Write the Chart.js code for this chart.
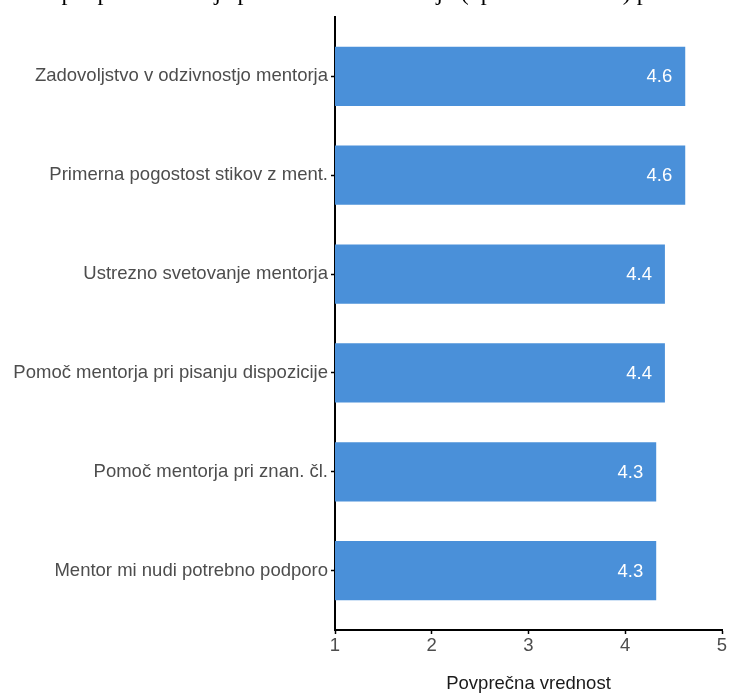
<!DOCTYPE html>
<html>
<head>
<meta charset="utf-8">
<script src="https://cdn.jsdelivr.net/npm/chart.js@4.4.1/dist/chart.umd.min.js"></script>
<style>
    html, body { margin: 0; padding: 0; background: #fff; overflow: hidden; }
    #wrap { position: relative; width: 729px; height: 695px; overflow: hidden; }
    #title {
        position: absolute; top: -20px; left: 50%; transform: translateX(-50%); z-index: 2;
        white-space: nowrap; font-family: "Liberation Serif", "Times New Roman", serif;
        font-size: 24px; line-height: 24px; color: #000;
    }
    #chart-box { position: absolute; left: 0; top: 0; width: 729px; height: 695px; z-index: 1; }
</style>
</head>
<body>
<div id="wrap">
    <div id="chart-box"><canvas id="barChart" width="729" height="695"></canvas></div>
    <div id="title">Slika 5: Povprečne ocene podpore mentorja pri doktorskem študiju (opisne statistike) po trditvah, urejeno padajoče</div>
</div>
<script>
// Data
const categories = [
    'Zadovoljstvo v odzivnostjo mentorja',
    'Primerna pogostost stikov z ment.',
    'Ustrezno svetovanje mentorja',
    'Pomoč mentorja pri pisanju dispozicije',
    'Pomoč mentorja pri znan. čl.',
    'Mentor mi nudi potrebno podporo'
];
const meanValues = [4.62, 4.62, 4.41, 4.41, 4.32, 4.32];
const xTicks = [1, 2, 3, 4, 5];

const barColor = '#4a90d9';
const axisColor = '#000000';
const tickText = '#4d4d4d';

Chart.defaults.font.family = '"Liberation Sans", Arial, sans-serif';

// white value labels at the end of each bar
const valueLabels = {
    id: 'valueLabels',
    afterDatasetsDraw(chart) {
        const ctx = chart.ctx;
        const meta = chart.getDatasetMeta(0);
        ctx.save();
        ctx.fillStyle = '#ffffff';
        ctx.font = '18.5px "Liberation Sans", Arial, sans-serif';
        ctx.textAlign = 'right';
        ctx.textBaseline = 'middle';
        meta.data.forEach((bar, i) => {
            ctx.fillText(meanValues[i].toFixed(1), bar.x - 13, bar.y + 1);
        });
        ctx.restore();
    }
};

const ctx = document.getElementById('barChart').getContext('2d');
new Chart(ctx, {
    type: 'bar',
    data: {
        datasets: [{
            data: meanValues.map((v, i) => ({ x: v, y: i })),
            backgroundColor: barColor,
            borderWidth: 0,
            categoryPercentage: 0.6,
            barPercentage: 1.0
        }]
    },
    plugins: [valueLabels],
    options: {
        indexAxis: 'y',
        responsive: false,
        animation: false,
        layout: { padding: { top: 17, right: 7, bottom: 0, left: 0 } },
        plugins: {
            legend: { display: false },
            tooltip: { enabled: false }
        },
        scales: {
            x: {
                type: 'linear',
                min: 1, max: 5,
                afterBuildTicks: (scale) => { scale.ticks = xTicks.map(v => ({ value: v })); },
                afterFit: (scale) => { scale.height = 65; },
                border: { display: true, color: axisColor, width: 2 },
                grid: { drawOnChartArea: false, drawTicks: true, tickLength: 4, tickColor: axisColor, tickWidth: 1.5 },
                ticks: { color: tickText, font: { size: 18.5 }, padding: 1 },
                title: {
                    display: true, text: 'Povprečna vrednost', color: '#1a1a1a',
                    font: { size: 18.5 }, padding: { top: 0, bottom: 0 }
                }
            },
            y: {
                type: 'linear',
                reverse: true,
                offset: false,
                min: -0.6, max: categories.length - 0.4,
                afterBuildTicks: (scale) => { scale.ticks = categories.map((c, i) => ({ value: i })); },
                afterFit: (scale) => { scale.width = 335; },
                border: { display: true, color: axisColor, width: 2 },
                grid: { offset: false, drawOnChartArea: false, drawTicks: true, tickLength: 4, tickColor: axisColor, tickWidth: 1.5 },
                ticks: {
                    color: tickText, font: { size: 18.5 }, padding: 3,
                    callback: (v) => categories[v]
                }
            }
        }
    }
});
</script>
</body>
</html>
